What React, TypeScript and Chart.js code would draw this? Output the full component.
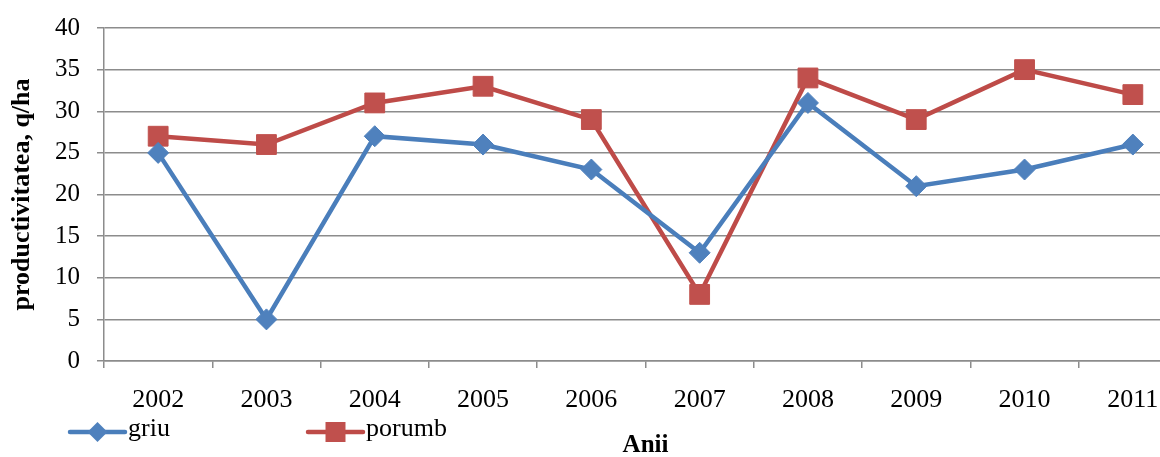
import React, { useEffect, useRef } from "react";
import { Chart, registerables } from "chart.js";

Chart.register(...registerables);

const categories = ["2002", "2003", "2004", "2005", "2006", "2007", "2008", "2009", "2010", "2011"];
const griu = [25, 5, 27, 26, 23, 13, 31, 21, 23, 26];
const porumb = [27, 26, 31, 33, 29, 8, 34, 29, 35, 32];
const seriesNames = ["griu", "porumb"];
const yTitle = "productivitatea, q/ha";
const xTitle = "Anii";
const yMin = 0;
const yMax = 40;
const yStep = 5;

const BLUE = "#4A7EBB";
const BLUE_FILL = "#4F81BD";
const RED = "#BE4B48";
const RED_FILL = "#C0504D";
const GRID = "#8C8C8C";
const FONT = "'Liberation Serif', 'Times New Roman', serif";
const SHIFT = 4;

const legendPlugin = {
  id: "excelLegend",
  afterDraw(chart: any) {
    const ctx = chart.ctx as CanvasRenderingContext2D;
    const y = 432 + SHIFT;
    const items = [
      { label: seriesNames[0], color: BLUE, fill: BLUE_FILL, x0: 70, x1: 125, shape: "diamond" },
      { label: seriesNames[1], color: RED, fill: RED_FILL, x0: 308, x1: 363, shape: "square" },
    ];
    ctx.save();
    items.forEach((it) => {
      ctx.strokeStyle = it.color;
      ctx.lineWidth = 4.5;
      ctx.lineCap = "round";
      ctx.beginPath();
      ctx.moveTo(it.x0, y);
      ctx.lineTo(it.x1, y);
      ctx.stroke();
      const cx = (it.x0 + it.x1) / 2;
      ctx.fillStyle = it.fill;
      ctx.beginPath();
      if (it.shape === "diamond") {
        const r = 10;
        ctx.moveTo(cx - r, y);
        ctx.lineTo(cx, y - r);
        ctx.lineTo(cx + r, y);
        ctx.lineTo(cx, y + r);
        ctx.closePath();
      } else {
        const h = 10;
        ctx.rect(cx - h, y - h, 2 * h, 2 * h);
      }
      ctx.fill();
      ctx.fillStyle = "#000";
      ctx.font = `26px ${FONT}`;
      ctx.textBaseline = "middle";
      ctx.textAlign = "left";
      ctx.fillText(it.label, it.x1 + 3, y - 3);
    });
    ctx.restore();
  },
};

export default function App() {
  const ref = useRef<HTMLCanvasElement | null>(null);

  useEffect(() => {
    if (!ref.current) return;
    const chart = new Chart(ref.current, {
      type: "line",
      data: {
        labels: categories,
        datasets: [
          {
            label: seriesNames[0],
            data: griu,
            borderColor: BLUE,
            backgroundColor: BLUE_FILL,
            borderWidth: 4.5,
            pointStyle: "rectRot",
            pointRadius: 10.5,
            pointHoverRadius: 10.5,
            pointBackgroundColor: BLUE_FILL,
            pointBorderColor: BLUE_FILL,
            pointBorderWidth: 1,
            tension: 0,
          },
          {
            label: seriesNames[1],
            data: porumb,
            borderColor: RED,
            backgroundColor: RED_FILL,
            borderWidth: 4.5,
            pointStyle: "rect",
            pointRadius: 14,
            pointHoverRadius: 14,
            pointBackgroundColor: RED_FILL,
            pointBorderColor: RED_FILL,
            pointBorderWidth: 1,
            tension: 0,
          },
        ],
      },
      options: {
        animation: false,
        responsive: true,
        maintainAspectRatio: false,
        layout: { padding: { top: 27, left: 0, right: 6, bottom: 0 } },
        plugins: {
          legend: { display: false },
          tooltip: { enabled: false },
        },
        scales: {
          x: {
            type: "category",
            offset: true,
            afterFit: (scale: any) => {
              scale.height = 115;
            },
            grid: {
              offset: true,
              drawOnChartArea: false,
              drawTicks: true,
              tickLength: 7,
              color: GRID,
              lineWidth: 1.5,
            },
            border: { display: true, color: GRID, width: 1.5 },
            ticks: {
              color: "#000",
              font: { family: FONT, size: 26 },
              padding: 17,
              maxRotation: 0,
              autoSkip: false,
            },
            title: {
              display: true,
              text: xTitle,
              color: "#000",
              font: { family: FONT, size: 25, weight: "bold" },
              padding: { top: 0, bottom: 15 },
            },
          },
          y: {
            min: yMin,
            max: yMax,
            afterFit: (scale: any) => {
              scale.width = 104;
            },
            grid: {
              color: GRID,
              lineWidth: 1.5,
              tickLength: 7,
              drawTicks: true,
            },
            border: { display: true, color: GRID, width: 1.5 },
            ticks: {
              stepSize: yStep,
              color: "#000",
              font: { family: FONT, size: 25 },
              padding: 17,
            },
            title: {
              display: true,
              text: yTitle,
              color: "#000",
              font: { family: FONT, size: 26, weight: "bold" },
              padding: { top: 7, bottom: 0 },
            },
          },
        },
      },
      plugins: [legendPlugin],
    } as any);
    return () => chart.destroy();
  }, []);

  return (
    <div
      style={{
        position: "fixed",
        left: 0,
        top: 0,
        width: 1160,
        height: 457,
        overflow: "hidden",
        background: "#fff",
      }}
    >
      <div style={{ position: "relative", width: 1202, height: 480, marginTop: -SHIFT }}>
        <canvas ref={ref} />
      </div>
    </div>
  );
}
